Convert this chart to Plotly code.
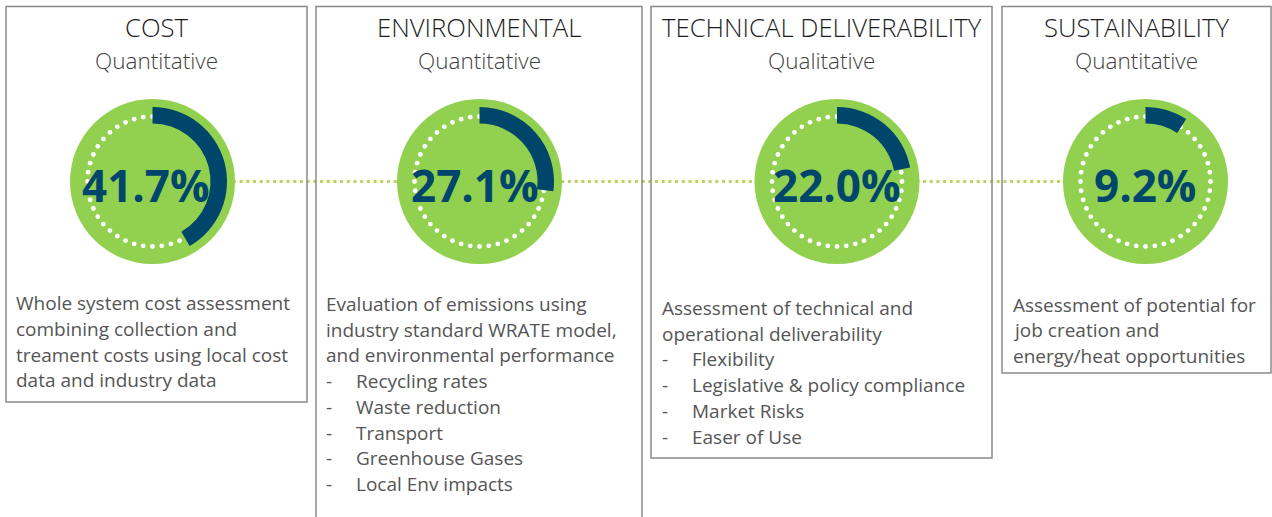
import numpy as np
import plotly.graph_objects as go

# ---------------- data ----------------
categories = ["COST", "ENVIRONMENTAL", "TECHNICAL DELIVERABILITY", "SUSTAINABILITY"]
assessment_types = ["Quantitative", "Quantitative", "Qualitative", "Quantitative"]
weight_pct = [41.7, 27.1, 22.0, 9.2]
intro_lines = [
    ["Whole system cost assessment", "combining collection and",
     "treament costs using local cost", "data and industry data"],
    ["Evaluation of emissions using", "industry standard WRATE model,",
     "and environmental performance"],
    ["Assessment of technical and", "operational deliverability"],
    ["Assessment of potential for", "job creation and", "energy/heat opportunities"],
]
bullet_items = [
    [],
    ["Recycling rates", "Waste reduction", "Transport", "Greenhouse Gases", "Local Env impacts"],
    ["Flexibility", "Legislative & policy compliance", "Market Risks", "Easer of Use"],
    [],
]

# ---------------- layout (pixels) ----------------
W, H = 1272, 517
box_x0 = [6, 316, 651, 1002]
box_x1 = [307, 642, 992, 1271]
box_top = 6.5
box_bottom = [402, 540, 458, 373]
circle_cx = [152.5, 479.5, 837, 1145.5]
circle_cy = 181.5
r_green = 82.5
r_arc_out = 74.5
r_arc_in = 58
r_dots = 65
n_dots = 44
pct_dx = [-7, -5, 0, 0]
text_x = [14, 324, 660, 1011]
text_y0 = [303.3, 304, 308, 304.5]
line_step = 25.7
bullet_indent = 30
title_y = 27.5
subtitle_y = 60
pct_y = 185

GREEN = "#92d050"
NAVY = "#00466b"
DOTLINE = "#bcd35f"
BORDER = "#8a8a8a"
TITLE_C = "#1e1e1e"
SUB_C = "#3f3f3f"
BODY_C = "#555555"
FONT = "Open Sans"

fig = go.Figure()
shapes = []
annotations = []

# dotted connector
shapes.append(dict(type="line", layer="below", xref="x", yref="y",
                   x0=circle_cx[0], x1=circle_cx[-1], y0=circle_cy, y1=circle_cy,
                   line=dict(color=DOTLINE, width=3, dash="3px,3.7px")))

for i, cat in enumerate(categories):
    # box
    shapes.append(dict(type="rect", layer="below", xref="x", yref="y",
                       x0=box_x0[i], x1=box_x1[i], y0=box_top, y1=box_bottom[i],
                       line=dict(color=BORDER, width=1.5), fillcolor="rgba(0,0,0,0)"))
    cx = circle_cx[i]
    # green disc
    shapes.append(dict(type="circle", layer="below", xref="x", yref="y",
                       x0=cx - r_green, x1=cx + r_green,
                       y0=circle_cy - r_green, y1=circle_cy + r_green,
                       line=dict(width=0), fillcolor=GREEN))
    # white dotted ring
    th = np.arange(n_dots) * 2 * np.pi / n_dots
    fig.add_trace(go.Scatter(x=cx + r_dots * np.sin(th), y=circle_cy - r_dots * np.cos(th),
                             mode="markers", marker=dict(color="white", size=4.8),
                             hoverinfo="skip", showlegend=False))
    # navy arc via donut pie
    fig.add_trace(go.Pie(values=[weight_pct[i], 100 - weight_pct[i]],
                         marker=dict(colors=[NAVY, "rgba(0,0,0,0)"], line=dict(width=0)),
                         hole=r_arc_in / r_arc_out, sort=False, direction="clockwise",
                         rotation=0, textinfo="none", hoverinfo="skip", showlegend=False,
                         domain=dict(x=[(cx - r_arc_out) / W, (cx + r_arc_out) / W],
                                     y=[1 - (circle_cy + r_arc_out) / H, 1 - (circle_cy - r_arc_out) / H])))
    # percent label
    annotations.append(dict(x=cx + pct_dx[i], y=pct_y, xref="x", yref="y",
                            text=f"{weight_pct[i]:.1f}%",
                            showarrow=False, xanchor="center", yanchor="middle",
                            font=dict(family=FONT, size=44, color=NAVY, weight=700)))
    bx = (box_x0[i] + box_x1[i]) / 2
    annotations.append(dict(x=bx, y=title_y, xref="x", yref="y", text=cat, showarrow=False,
                            xanchor="center", yanchor="middle",
                            font=dict(family=FONT, size=25.7, color=TITLE_C, weight=300)))
    annotations.append(dict(x=bx, y=subtitle_y, xref="x", yref="y", text=assessment_types[i],
                            showarrow=False, xanchor="center", yanchor="middle",
                            font=dict(family=FONT, size=22.5, color=SUB_C, weight=300)))
    # description
    y = text_y0[i]
    for line in intro_lines[i]:
        annotations.append(dict(x=text_x[i], y=y, xref="x", yref="y", text=line, showarrow=False,
                                xanchor="left", yanchor="middle",
                                font=dict(family=FONT, size=19, color=BODY_C)))
        y += line_step
    for item in bullet_items[i]:
        annotations.append(dict(x=text_x[i], y=y, xref="x", yref="y", text="-", showarrow=False,
                                xanchor="left", yanchor="middle",
                                font=dict(family=FONT, size=19, color=BODY_C)))
        annotations.append(dict(x=text_x[i] + bullet_indent, y=y, xref="x", yref="y", text=item,
                                showarrow=False, xanchor="left", yanchor="middle",
                                font=dict(family=FONT, size=19, color=BODY_C)))
        y += line_step

fig.update_layout(
    width=W, height=H, autosize=False,
    margin=dict(l=0, r=0, t=0, b=0),
    paper_bgcolor="white", plot_bgcolor="white",
    shapes=shapes, annotations=annotations,
    xaxis=dict(range=[0, W], visible=False, fixedrange=True),
    yaxis=dict(range=[H, 0], visible=False, fixedrange=True),
    showlegend=False,
)
fig.write_html("out.html", config={"displayModeBar": False},
               post_script="document.body.style.margin='0';document.body.style.overflow='hidden';")
